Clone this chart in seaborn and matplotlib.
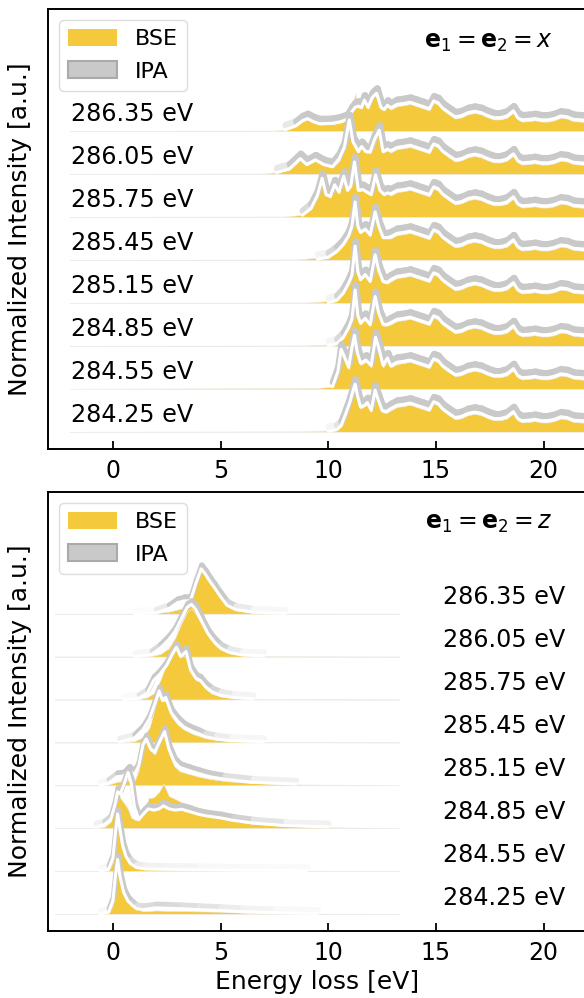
import numpy as np
import pandas as pd
import matplotlib
matplotlib.use("Agg")
import matplotlib.pyplot as plt
import matplotlib.patheffects as pe
from matplotlib.patches import Patch
from matplotlib.collections import LineCollection
from matplotlib.colors import to_rgb
from matplotlib.transforms import ScaledTranslation
import seaborn as sns

nan = np.nan

# -------------------------
# Data, spectra ordered bottom -> top
# -------------------------
labels = ["284.25 eV", "284.55 eV", "284.85 eV", "285.15 eV",
          "285.45 eV", "285.75 eV", "286.05 eV", "286.35 eV"]

# top panel (e1 = e2 = x): onset region of each spectrum
top_x = [
    [-2.0, 9.0, 10.0, 10.4, 10.6, 10.8, 11.0, 11.15, 11.25, 11.38, 11.5, 11.7, 11.82, 12.0, 12.18, 12.32, 12.5, 12.7],
    [-2.0, 9.5, 10.2, 10.45, 10.6, 10.75, 10.95, 11.1, 11.22, 11.35, 11.5, 11.75, 12.0, 12.2, 12.35, 12.55, 12.75],
    [-2.0, 9.0, 10.0, 10.4, 10.7, 10.95, 11.1, 11.25, 11.38, 11.5, 11.72, 11.95, 12.18, 12.35, 12.55, 12.75],
    [-2.0, 9.0, 10.0, 10.4, 10.7, 10.95, 11.1, 11.25, 11.38, 11.5, 11.72, 11.95, 12.18, 12.35, 12.55, 12.75],
    [-2.0, 8.5, 9.5, 10.0, 10.4, 10.7, 10.95, 11.1, 11.25, 11.38, 11.5, 11.72, 11.95, 12.18, 12.35, 12.55, 12.75],
    [-2.0, 8.0, 8.8, 9.2, 9.5, 9.72, 9.9, 10.1, 10.3, 10.5, 10.72, 10.9, 11.05, 11.22, 11.4, 11.6, 11.8, 12.0, 12.2, 12.4, 12.6, 12.75],
    [-2.0, 7.0, 7.6, 8.2, 8.7, 9.0, 9.4, 9.8, 10.2, 10.5, 10.75, 10.98, 11.15, 11.4, 11.55, 11.75, 11.95, 12.15, 12.37, 12.55, 12.75],
    [-2.0, 7.5, 8.0, 8.5, 8.8, 9.04, 9.3, 9.6, 10.2, 10.6, 10.9, 11.1, 11.25, 11.4, 11.55, 11.68, 11.85, 12.05, 12.12, 12.25, 12.45, 12.6, 12.75],
]
top_bse = [
    [0, 0.01, 0.03, 0.06, 0.14, 0.37, 0.64, 0.92, 1.08, 0.78, 0.54, 0.60, 0.64, 0.47, 0.95, 0.72, 0.46, 0.44],
    [0, 0.02, 0.05, 0.30, 0.85, 0.68, 0.46, 0.90, 1.20, 0.80, 0.56, 0.63, 0.50, 1.15, 0.90, 0.50, 0.66],
    [0, 0.01, 0.03, 0.05, 0.18, 0.40, 0.60, 1.27, 0.68, 0.50, 0.62, 0.47, 1.12, 0.72, 0.47, 0.47],
    [0, 0.01, 0.04, 0.06, 0.21, 0.44, 0.62, 1.30, 0.70, 0.52, 0.64, 0.48, 1.10, 0.72, 0.47, 0.45],
    [0, 0.01, 0.05, 0.06, 0.18, 0.34, 0.54, 0.75, 1.33, 0.75, 0.62, 0.70, 0.55, 1.10, 0.75, 0.50, 0.50],
    [0, 0.01, 0.05, 0.18, 0.45, 0.85, 0.50, 0.45, 0.70, 0.55, 0.90, 0.60, 0.70, 1.25, 0.60, 0.62, 0.55, 0.50, 0.95, 0.60, 0.50, 0.55],
    [0, 0.01, 0.04, 0.10, 0.33, 0.20, 0.31, 0.20, 0.15, 0.30, 0.55, 1.24, 0.70, 0.50, 0.62, 0.50, 0.48, 0.70, 1.00, 0.50, 0.55],
    [0, 0.01, 0.03, 0.11, 0.22, 0.27, 0.20, 0.15, 0.16, 0.20, 0.26, 0.40, 0.88, 0.55, 0.52, 0.70, 0.52, 0.75, 0.80, 0.86, 0.52, 0.48, 0.58],
]
top_ipa = [
    [nan, nan, 0.01, 0.05, 0.14, 0.40, 0.68, 0.95, 1.11, 0.80, 0.58, 0.62, 0.68, 0.50, 0.97, 0.75, 0.50, 0.47],
    [nan, nan, 0.05, 0.40, 0.92, 0.75, 0.50, 0.95, 1.25, 0.85, 0.60, 0.67, 0.55, 1.20, 0.95, 0.55, 0.72],
    [nan, nan, 0.01, 0.05, 0.20, 0.42, 0.62, 1.30, 0.70, 0.53, 0.64, 0.49, 1.15, 0.75, 0.50, 0.50],
    [nan, nan, 0.01, 0.06, 0.23, 0.46, 0.64, 1.32, 0.72, 0.54, 0.66, 0.50, 1.12, 0.75, 0.50, 0.48],
    [nan, nan, 0.02, 0.06, 0.20, 0.36, 0.56, 0.78, 1.35, 0.78, 0.64, 0.72, 0.58, 1.12, 0.78, 0.52, 0.52],
    [nan, nan, 0.04, 0.20, 0.50, 0.90, 0.52, 0.48, 0.75, 0.58, 0.95, 0.62, 0.72, 1.28, 0.62, 0.64, 0.58, 0.52, 0.98, 0.62, 0.52, 0.56],
    [nan, nan, 0.03, 0.12, 0.36, 0.22, 0.33, 0.22, 0.17, 0.35, 0.62, 1.26, 0.75, 0.52, 0.64, 0.52, 0.52, 0.80, 1.02, 0.52, 0.58],
    [nan, nan, 0.03, 0.12, 0.24, 0.29, 0.22, 0.17, 0.18, 0.22, 0.28, 0.45, 0.55, 0.58, 0.55, 0.72, 0.55, 0.78, 0.82, 0.88, 0.55, 0.50, 0.60],
]
# top panel: fine structure above ~13 eV, common to all eight spectra
tail_x = [12.9, 13.2, 13.5, 13.8, 14.1, 14.4, 14.7, 14.9, 15.1, 15.3, 15.6, 15.9, 16.2, 16.5, 16.8,
          17.1, 17.4, 17.7, 18.0, 18.3, 18.6, 18.8, 19.0, 19.3, 19.6, 19.9, 20.2, 20.5, 20.8, 21.1,
          21.4, 21.7, 22.2]
tail_bse = [0.50, 0.58, 0.60, 0.63, 0.58, 0.53, 0.48, 0.66, 0.62, 0.50, 0.39, 0.29, 0.32, 0.39, 0.42,
            0.39, 0.32, 0.27, 0.27, 0.31, 0.43, 0.27, 0.22, 0.23, 0.25, 0.22, 0.22, 0.25, 0.31, 0.29,
            0.23, 0.22, 0.20]
tail_ipa = [0.54, 0.62, 0.64, 0.67, 0.62, 0.57, 0.52, 0.70, 0.66, 0.54, 0.43, 0.33, 0.36, 0.43, 0.46,
            0.43, 0.36, 0.31, 0.31, 0.35, 0.47, 0.31, 0.26, 0.27, 0.29, 0.26, 0.26, 0.29, 0.35, 0.33,
            0.27, 0.26, 0.24]

# bottom panel (e1 = e2 = z)
bot_x = [
    [-2.7, -0.6, -0.2, 0.0, 0.12, 0.22, 0.32, 0.5, 0.7, 0.9, 1.1, 1.4, 2.0, 2.6, 3.2, 4.0, 5.0, 6.0, 7.5, 9.5, 13.3],
    [-2.7, -0.6, -0.2, 0.0, 0.12, 0.22, 0.32, 0.45, 0.6, 0.8, 1.1, 1.5, 2.5, 4.0, 6.0, 9.0, 13.3],
    [-2.7, -0.8, -0.4, -0.1, 0.1, 0.22, 0.35, 0.5, 0.7, 0.85, 1.0, 1.2, 1.45, 1.65, 1.9, 2.15, 2.35, 2.6, 2.9, 3.2, 3.6, 4.0, 4.4, 5.0, 5.6, 6.5, 8.0, 10.0, 13.3],
    [-2.7, -0.6, -0.2, 0.2, 0.5, 0.75, 1.0, 1.2, 1.4, 1.55, 1.75, 1.95, 2.2, 2.4, 2.6, 2.85, 3.1, 3.5, 4.0, 4.5, 5.2, 6.5, 8.5, 13.3],
    [-2.7, 0.3, 1.0, 1.4, 1.7, 1.95, 2.15, 2.3, 2.45, 2.7, 3.0, 3.3, 3.7, 4.0, 4.3, 4.8, 5.5, 7.0, 13.3],
    [-2.7, 0.5, 1.2, 1.6, 1.9, 2.2, 2.5, 2.75, 2.95, 3.15, 3.4, 3.6, 3.85, 4.05, 4.3, 4.6, 5.0, 5.6, 6.5, 13.3],
    [-2.7, 1.0, 1.8, 2.2, 2.6, 2.9, 3.2, 3.45, 3.65, 3.85, 4.1, 4.4, 4.7, 5.0, 5.4, 6.0, 7.0, 13.3],
    [-2.7, 1.0, 2.0, 2.6, 3.0, 3.3, 3.6, 3.85, 4.1, 4.3, 4.5, 4.7, 5.0, 5.3, 5.7, 6.5, 8.0, 13.3],
]
bot_bse = [
    [0, 0.0, 0.03, 0.20, 0.75, 1.25, 0.75, 0.48, 0.38, 0.30, 0.12, 0.06, 0.08, 0.07, 0.07, 0.06, 0.05, 0.03, 0.01, 0.005, 0],
    [0, 0.0, 0.03, 0.20, 0.80, 1.28, 0.90, 0.50, 0.30, 0.15, 0.07, 0.04, 0.03, 0.02, 0.01, 0.005, 0],
    [0, 0.0, 0.03, 0.15, 0.60, 0.96, 0.70, 0.60, 0.45, 0.25, 0.20, 0.18, 0.35, 0.70, 0.72, 0.85, 1.04, 0.75, 0.68, 0.60, 0.55, 0.45, 0.40, 0.28, 0.18, 0.10, 0.05, 0.02, 0],
    [0, 0.0, 0.02, 0.08, 0.10, 0.12, 0.10, 0.35, 0.90, 1.05, 0.80, 0.72, 1.00, 1.22, 0.75, 0.45, 0.33, 0.27, 0.20, 0.15, 0.10, 0.05, 0.02, 0],
    [0, 0.0, 0.03, 0.12, 0.35, 0.80, 1.15, 0.95, 0.98, 0.62, 0.42, 0.30, 0.20, 0.15, 0.10, 0.06, 0.03, 0.01, 0],
    [0, 0.0, 0.01, 0.05, 0.15, 0.45, 0.85, 1.15, 1.25, 1.02, 1.00, 0.65, 0.45, 0.42, 0.25, 0.14, 0.07, 0.03, 0.01, 0],
    [0, 0.0, 0.02, 0.06, 0.20, 0.45, 0.80, 1.05, 1.12, 1.00, 0.78, 0.50, 0.30, 0.17, 0.08, 0.03, 0.01, 0],
    [0, 0.0, 0.02, 0.05, 0.10, 0.14, 0.30, 0.75, 1.10, 0.95, 0.78, 0.62, 0.38, 0.18, 0.08, 0.02, 0.005, 0],
]
bot_ipa = [
    [nan, 0.0, 0.04, 0.30, 0.90, 1.27, 0.90, 0.50, 0.30, 0.20, 0.12, 0.10, 0.14, 0.13, 0.12, 0.10, 0.08, 0.05, 0.03, 0.01, nan],
    [nan, 0.0, 0.04, 0.30, 0.90, 1.33, 1.00, 0.60, 0.35, 0.18, 0.08, 0.05, 0.04, 0.03, 0.02, 0.01, nan],
    [nan, 0.02, 0.08, 0.20, 0.55, 0.85, 0.80, 1.00, 1.30, 1.05, 0.50, 0.20, 0.35, 0.45, 0.42, 0.45, 0.52, 0.45, 0.42, 0.44, 0.38, 0.32, 0.28, 0.24, 0.18, 0.12, 0.06, 0.03, nan],
    [nan, 0.0, 0.05, 0.20, 0.22, 0.35, 0.25, 0.45, 0.95, 1.08, 0.85, 0.78, 1.05, 1.25, 0.85, 0.55, 0.42, 0.35, 0.27, 0.20, 0.14, 0.07, 0.03, nan],
    [nan, 0.01, 0.10, 0.30, 0.55, 0.90, 1.20, 0.98, 1.05, 0.70, 0.50, 0.36, 0.26, 0.20, 0.13, 0.08, 0.04, 0.02, nan],
    [nan, 0.0, 0.03, 0.15, 0.45, 0.60, 0.80, 1.05, 1.22, 1.00, 1.12, 0.70, 0.50, 0.45, 0.30, 0.18, 0.10, 0.05, 0.02, nan],
    [nan, 0.0, 0.05, 0.20, 0.40, 0.60, 0.90, 1.15, 1.22, 1.10, 0.85, 0.55, 0.35, 0.20, 0.10, 0.04, 0.02, nan],
    [nan, 0.0, 0.02, 0.12, 0.26, 0.30, 0.30, 0.70, 1.05, 0.92, 0.76, 0.62, 0.40, 0.20, 0.10, 0.04, 0.01, nan],
]

GOLD = "#f4ca3c"
GRAY = "#c9c9c9"

# -------------------------
# Style
# -------------------------
sns.set_style("white")
plt.rcParams["font.family"] = ["DejaVu Sans"]
plt.rcParams["mathtext.fontset"] = "dejavusans"
plt.rcParams["text.color"] = "black"
plt.rcParams["axes.labelcolor"] = "black"
plt.rcParams["xtick.color"] = "black"

fig = plt.figure(figsize=(5.84, 9.98), dpi=100)
ax_top = fig.add_axes([0.0827, 0.5501, 0.9217, 0.4409])
ax_bot = fig.add_axes([0.0827, 0.0671, 0.9217, 0.4399])


def grey_band(ax, x, y, base, z, lw, dy):
    # grey band just above the white IPA curve, fading out near the baseline
    pts = np.column_stack([x, y])
    segs = np.stack([pts[:-1], pts[1:]], axis=1)
    amp = (y[:-1] + y[1:]) / 2 - base
    w = np.clip(amp / 0.18, 0, 1)[:, None]
    cols = np.array(to_rgb(GRAY)) * w + (1 - w)
    shift = ScaledTranslation(0.5 / 72, dy / 72, fig.dpi_scale_trans)
    lc = LineCollection(segs, colors=cols, linewidths=lw, capstyle="round",
                        joinstyle="round", zorder=z, transform=ax.transData + shift)
    ax.add_collection(lc)


def draw_panel(ax, xs, bses, ipas, lw_band, dy_band, tail=None):
    for i in range(len(labels)):
        x = list(xs[i])
        b = list(bses[i])
        p = list(ipas[i])
        if tail is not None:
            x += tail[0]
            b += tail[1]
            p += tail[2]
        z = 10 + (len(labels) - 1 - i) * 3
        ax.fill_between(x, i, i + np.array(b), facecolor=GOLD, edgecolor="#ececec",
                        linewidth=0.5, zorder=z)
        df = pd.DataFrame({"x": x, "y": i + np.array(p, dtype=float)}).dropna()
        grey_band(ax, df["x"].to_numpy(), df["y"].to_numpy(), i, z + 1, lw_band, dy_band)
        sns.lineplot(data=df, x="x", y="y", ax=ax, color="white", linewidth=2.2,
                     sort=False, estimator=None, zorder=z + 2)


draw_panel(ax_top, top_x, top_bse, top_ipa, 5.0, 3.2, tail=(tail_x, tail_bse, tail_ipa))
draw_panel(ax_bot, bot_x, bot_bse, bot_ipa, 4.0, 2.5)

for i, lab in enumerate(labels):
    ax_top.text(-1.95, i + 0.4, lab, ha="left", va="center", fontsize=17.2, zorder=60)
    ax_bot.text(21.0, i + 0.38, lab, ha="right", va="center", fontsize=17.2, zorder=60)

ax_top.text(0.937, 0.925, r"$\mathbf{e}_1 = \mathbf{e}_2 = x$", transform=ax_top.transAxes,
            ha="right", va="center", fontsize=17)
ax_bot.text(0.937, 0.93, r"$\mathbf{e}_1 = \mathbf{e}_2 = z$", transform=ax_bot.transAxes,
            ha="right", va="center", fontsize=17)

handles = [Patch(facecolor=GOLD, edgecolor=GOLD, linewidth=0),
           Patch(facecolor=GRAY, edgecolor="#aaaaaa", linewidth=1.5)]
for ax in (ax_top, ax_bot):
    ax.set_xlim(-3, 22)
    ax.set_ylim(-0.4, 9.84)
    ax.set_xticks([0, 5, 10, 15, 20])
    ax.set_yticks([])
    ax.tick_params(axis="x", direction="in", length=6, width=1.3, labelsize=17, pad=7,
                   bottom=True, top=False)
    for s in ax.spines.values():
        s.set_visible(True)
        s.set_color("black")
        s.set_linewidth(1.4)
    ax.set_xlabel("")
    ax.set_ylabel("Normalized Intensity [a.u.]", fontsize=18)
    ax.yaxis.set_label_coords(-0.03, 0.5)
    leg = ax.legend(handles, ["BSE", "IPA"], loc="upper left", fontsize=16,
                    handlelength=2.2, handleheight=0.8, labelspacing=0.55,
                    framealpha=1.0, edgecolor="#dddddd", fancybox=True)
    leg.set_zorder(100)

ax_bot.set_xlabel("Energy loss [eV]", fontsize=18)

fig.savefig("out.png", dpi=100)
